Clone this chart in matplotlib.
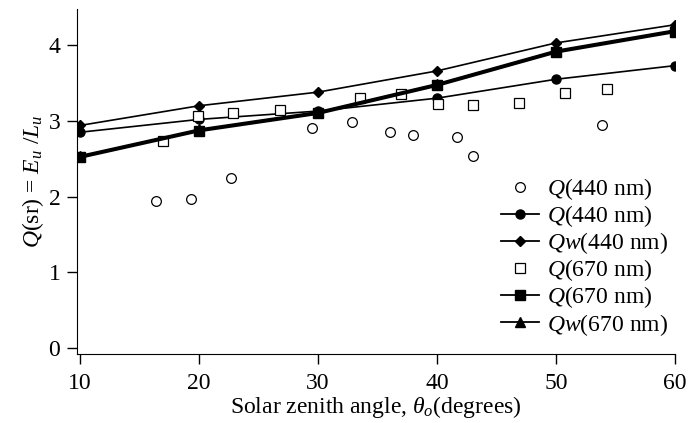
import numpy as np
import matplotlib
matplotlib.use('Agg')
import matplotlib.pyplot as plt

plt.rcParams['font.family'] = ['Liberation Serif', 'DejaVu Serif']
plt.rcParams['mathtext.fontset'] = 'custom'
plt.rcParams['mathtext.rm'] = 'Liberation Serif'
plt.rcParams['mathtext.it'] = 'Liberation Serif:italic'

# model runs at 10..60 degrees
angles = [10, 20, 30, 40, 50, 60]
q440_model = [2.85, 3.02, 3.13, 3.30, 3.55, 3.73]
qw440_model = [2.94, 3.20, 3.38, 3.66, 4.03, 4.27]
q670_model = [2.52, 2.87, 3.10, 3.47, 3.91, 4.18]
qw670_model = [2.54, 2.89, 3.12, 3.49, 3.93, 4.20]

# measurements
q440_obs_x = [16.4, 19.3, 22.7, 29.5, 32.9, 36.1, 38.0, 41.7, 43.05, 53.9]
q440_obs_y = [1.94, 1.97, 2.24, 2.91, 2.98, 2.86, 2.81, 2.79, 2.54, 2.94]
q670_obs_x = [16.95, 19.9, 22.9, 26.8, 33.5, 37.0, 40.1, 43.0, 46.9, 50.8, 54.3]
q670_obs_y = [2.73, 3.06, 3.11, 3.14, 3.30, 3.36, 3.23, 3.21, 3.24, 3.37, 3.42]

fig = plt.figure(figsize=(7, 4.23), dpi=100)
ax = fig.add_axes([0.11, 0.163, 0.854, 0.816])

ax.plot(q440_obs_x, q440_obs_y, 'o', mfc='white', mec='black', ms=7, mew=0.9,
        linestyle='none', label='$Q$(440 nm)')
ax.plot(angles, q440_model, '-o', color='black', lw=1.2, ms=6.5, label='$Q$(440 nm)')
ax.plot(angles, qw440_model, '-D', color='black', lw=1.2, ms=5, label='$Qw$(440 nm)')
ax.plot(q670_obs_x, q670_obs_y, 's', mfc='white', mec='black', ms=7, mew=0.9,
        linestyle='none', label='$Q$(670 nm)')
ax.plot(angles, q670_model, '-s', color='black', lw=2.4, ms=6.5, label='$Q$(670 nm)')
ax.plot(angles, qw670_model, '-^', color='black', lw=1.3, ms=6.5, label='$Qw$(670 nm)')

ax.set_xlim(9.75, 60)
ax.set_ylim(-0.08, 4.48)
ax.set_xticks([10, 20, 30, 40, 50, 60])
ax.set_yticks([0, 1, 2, 3, 4])
ax.spines['top'].set_visible(False)
ax.spines['right'].set_visible(False)
ax.tick_params(direction='out', length=7, width=1, labelsize=17)
ax.tick_params(axis='x', pad=7)
ax.tick_params(axis='y', pad=5)

ax.set_xlabel(r'Solar zenith angle, $\theta_o$(degrees)', fontsize=17, labelpad=0)
ax.set_ylabel(r'$Q$(sr) = $E_u$ /$L_u$', fontsize=17, labelpad=2)

leg = ax.legend(loc='upper left', bbox_to_anchor=(0.69, 0.55), frameon=False,
                fontsize=17, handlelength=1.6, labelspacing=0.05, handletextpad=0.35,
                borderpad=0)
for h in leg.legend_handles:
    h.set_linewidth(1.3)

fig.savefig('out.png', dpi=100)
